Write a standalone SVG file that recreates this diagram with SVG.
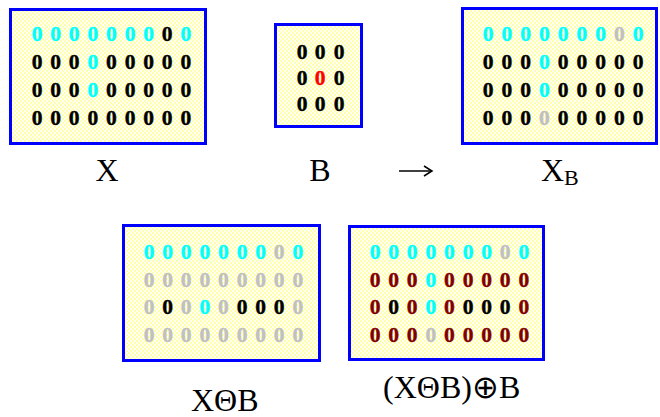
<svg xmlns="http://www.w3.org/2000/svg" width="660" height="417" viewBox="0 0 660 417">
<defs>
<pattern id="dots" x="0" y="0" width="4" height="4" patternUnits="userSpaceOnUse">
<rect width="4" height="4" fill="#FFFFF6"/>
<circle cx="1" cy="1" r="0.75" fill="#FFFF40"/>
<circle cx="3" cy="3" r="0.75" fill="#FFFF40"/>
</pattern>
<marker id="ah" markerWidth="12" markerHeight="12" refX="10" refY="6" orient="auto" markerUnits="userSpaceOnUse">
<path d="M2,1 L10,6 L2,11" fill="none" stroke="#000" stroke-width="1.5"/>
</marker>
</defs>
<style>
.box{fill:url(#dots);stroke:#0000FF;stroke-width:3}
.z{font-family:"Liberation Serif","Times New Roman",serif;font-weight:bold;font-size:21.5px;text-anchor:middle;stroke-width:0.4}
.k{fill:#000;stroke:#000}
.c{fill:#00FFFF;stroke:#00FFFF}
.g{fill:#C0C0C0;stroke:#C0C0C0}
.r{fill:#FF0000;stroke:#FF0000}
.d{fill:#800000;stroke:#800000}
.lbl{font-family:"Liberation Serif","Times New Roman",serif;font-size:32px;fill:#000}
</style>

<g id="X">
<rect class="box" x="10.5" y="9.5" width="195" height="134"/>
<text class="z" y="40.5"><tspan class="c" x="37 55.6 74.2 92.8 111.4 130 148.6">0000000</tspan><tspan class="k" x="167.2">0</tspan><tspan class="c" x="185.8">0</tspan></text>
<text class="z" y="69"><tspan class="k" x="37 55.6 74.2">000</tspan><tspan class="c" x="92.8">0</tspan><tspan class="k" x="111.4 130 148.6 167.2 185.8">00000</tspan></text>
<text class="z" y="96.5"><tspan class="k" x="37 55.6 74.2">000</tspan><tspan class="c" x="92.8">0</tspan><tspan class="k" x="111.4 130 148.6 167.2 185.8">00000</tspan></text>
<text class="z" y="124.5"><tspan class="k" x="37 55.6 74.2 92.8 111.4 130 148.6 167.2 185.8">000000000</tspan></text>
<text class="lbl" x="107" y="181" text-anchor="middle">X</text>
</g>

<g id="B">
<rect class="box" x="275.5" y="24.5" width="86" height="102"/>
<text class="z" y="58.5"><tspan class="k" x="302 320 339">000</tspan></text>
<text class="z" y="84.5"><tspan class="k" x="302">0</tspan><tspan class="r" x="320">0</tspan><tspan class="k" x="339">0</tspan></text>
<text class="z" y="110.5"><tspan class="k" x="302 320 339">000</tspan></text>
<text class="lbl" x="320" y="181" text-anchor="middle">B</text>
</g>

<g id="connectors">
<path d="M399,171 H432" stroke="#000" stroke-width="1.6" fill="none" marker-end="url(#ah)"/>
</g>

<g id="XB">
<rect class="box" x="462.5" y="8.5" width="194" height="135"/>
<text class="z" y="40.5"><tspan class="c" x="488 506.75 525.5 544.25 563 581.75 600.5">0000000</tspan><tspan class="g" x="619.25">0</tspan><tspan class="c" x="638">0</tspan></text>
<text class="z" y="69"><tspan class="k" x="488 506.75 525.5">000</tspan><tspan class="c" x="544.25">0</tspan><tspan class="k" x="563 581.75 600.5 619.25 638">00000</tspan></text>
<text class="z" y="96.5"><tspan class="k" x="488 506.75 525.5">000</tspan><tspan class="c" x="544.25">0</tspan><tspan class="k" x="563 581.75 600.5 619.25 638">00000</tspan></text>
<text class="z" y="124.5"><tspan class="k" x="488 506.75 525.5">000</tspan><tspan class="g" x="544.25">0</tspan><tspan class="k" x="563 581.75 600.5 619.25 638">00000</tspan></text>
<text class="lbl" x="541" y="181">X<tspan font-size="22" dy="4">B</tspan></text>
</g>

<g id="XminusB">
<rect class="box" x="123.5" y="225.5" width="196" height="135"/>
<text class="z" y="259"><tspan class="c" x="149 167.6 186.2 204.8 223.4 242 260.6">0000000</tspan><tspan class="g" x="279.2">0</tspan><tspan class="c" x="297.8">0</tspan></text>
<text class="z" y="286.5"><tspan class="g" x="149 167.6 186.2 204.8 223.4 242 260.6 279.2 297.8">000000000</tspan></text>
<text class="z" y="314"><tspan class="g" x="149">0</tspan><tspan class="k" x="167.6">0</tspan><tspan class="g" x="186.2">0</tspan><tspan class="c" x="204.8">0</tspan><tspan class="g" x="223.4">0</tspan><tspan class="k" x="242 260.6 279.2">000</tspan><tspan class="g" x="297.8">0</tspan></text>
<text class="z" y="341.5"><tspan class="g" x="149 167.6 186.2 204.8 223.4 242 260.6 279.2 297.8">000000000</tspan></text>
<text class="lbl" x="191" y="411">XΘB</text>
</g>

<g id="opening">
<rect class="box" x="349.5" y="226.5" width="194" height="133"/>
<text class="z" y="259"><tspan class="c" x="375 393.6 412.2 430.8 449.4 468 486.6">0000000</tspan><tspan class="g" x="505.2">0</tspan><tspan class="c" x="523.8">0</tspan></text>
<text class="z" y="286.5"><tspan class="d" x="375 393.6 412.2">000</tspan><tspan class="c" x="430.8">0</tspan><tspan class="d" x="449.4 468 486.6 505.2 523.8">00000</tspan></text>
<text class="z" y="314"><tspan class="d" x="375">0</tspan><tspan class="k" x="393.6">0</tspan><tspan class="d" x="412.2">0</tspan><tspan class="c" x="430.8">0</tspan><tspan class="d" x="449.4">0</tspan><tspan class="k" x="468 486.6 505.2">000</tspan><tspan class="d" x="523.8">0</tspan></text>
<text class="z" y="341.5"><tspan class="d" x="375 393.6 412.2">000</tspan><tspan class="g" x="430.8">0</tspan><tspan class="d" x="449.4 468 486.6 505.2 523.8">00000</tspan></text>
<text class="lbl" x="383" y="398">(XΘB)⊕B</text>
</g>
</svg>
